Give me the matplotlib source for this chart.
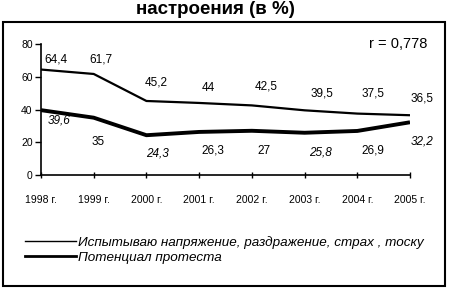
import matplotlib.pyplot as plt
from matplotlib.lines import Line2D
from matplotlib.patches import Rectangle

# data
years = ['1998 г.', '1999 г.', '2000 г.', '2001 г.', '2002 г.', '2003 г.', '2004 г.', '2005 г.']
stress = [64.4, 61.7, 45.2, 44, 42.5, 39.5, 37.5, 36.5]
protest = [39.6, 35, 24.3, 26.3, 27, 25.8, 26.9, 32.2]
stress_name = 'Испытываю напряжение, раздражение, страх , тоску'
protest_name = 'Потенциал протеста'
title = 'настроения (в %)'
corr_text = 'r = 0,778'

plt.rcParams['font.family'] = ['Liberation Sans', 'DejaVu Sans']

fig = plt.figure(figsize=(4.49, 2.88), dpi=100)
ax = fig.add_axes([41 / 449, 1 - 175 / 288, 369 / 449, 131 / 288])

x = list(range(len(years)))
ax.plot(x, stress, color='black', lw=1.6, solid_capstyle='butt')
ax.plot(x, protest, color='black', lw=2.8, solid_capstyle='butt')

ax.set_xlim(0, len(years) - 1)
ax.set_ylim(0, 80)
ax.set_yticks([0, 20, 40, 60, 80])
ax.set_xticks(x)
ax.set_xticklabels(years, fontsize=7.5)
ax.tick_params(axis='y', labelsize=7.5, length=4, width=1, direction='out', pad=2)
ax.tick_params(axis='x', length=5, width=1, direction='inout', pad=12)
for s in ['top', 'right']:
    ax.spines[s].set_visible(False)
for s in ['left', 'bottom']:
    ax.spines[s].set_linewidth(1.2)

# value labels (offsets in pixels)
up_off = [(15, 10), (7, 14), (10, 18), (9, 15), (14, 19), (17, 17), (16, 20), (12, 17)]
lo_off = [(18, -10), (4, -24), (11, -18), (14, -19), (12, -20), (16, -20), (16, -20), (12, -19)]
lo_italic = {0, 2, 5, 7}
for i, v in enumerate(stress):
    ax.annotate(f'{v:g}'.replace('.', ','), (x[i], v), textcoords='offset pixels',
                xytext=up_off[i], ha='center', va='center', fontsize=8.5,
                annotation_clip=False)
for i, v in enumerate(protest):
    ax.annotate(f'{v:g}'.replace('.', ','), (x[i], v), textcoords='offset pixels',
                xytext=lo_off[i], ha='center', va='center', fontsize=8.5,
                style='italic' if i in lo_italic else 'normal', annotation_clip=False)

fig.text(427 / 449, 1 - 44 / 288, corr_text, ha='right', va='center', fontsize=10.5)

fig.text(215 / 449, 1 - 10 / 288, title, ha='center', va='center', fontsize=13.5,
         fontweight='bold')

# frame around chart area
fig.patches.append(Rectangle((3 / 449, 2 / 288), 442 / 449, 264 / 288,
                             transform=fig.transFigure, fill=False,
                             edgecolor='black', lw=1.5))

handles = [Line2D([0], [0], color='black', lw=1.0),
           Line2D([0], [0], color='black', lw=2.0)]
fig.legend(handles, [stress_name, protest_name], loc='upper left',
           bbox_to_anchor=(25 / 449, 1 - 236 / 288), frameon=False,
           prop={'size': 9.7, 'style': 'italic'}, handlelength=3.8,
           handletextpad=0.1, labelspacing=0.2, borderpad=0, borderaxespad=0)

fig.savefig('out.png', dpi=100)
